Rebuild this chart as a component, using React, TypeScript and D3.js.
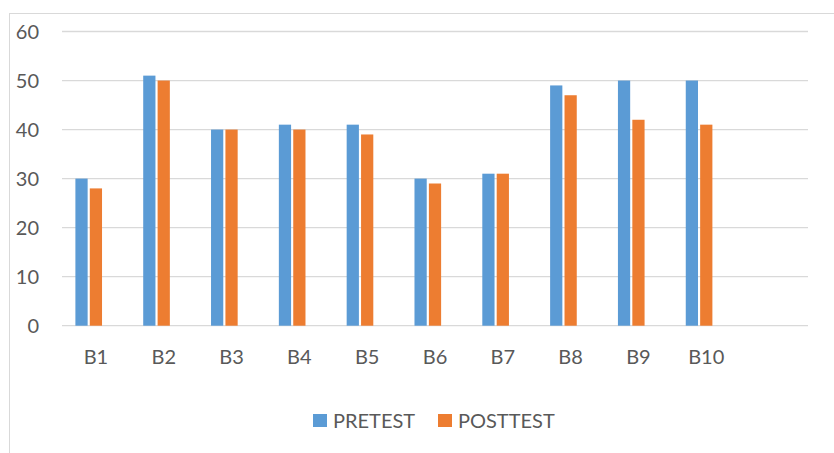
import React from "react";
import * as d3 from "d3";

const categories = ["B1", "B2", "B3", "B4", "B5", "B6", "B7", "B8", "B9", "B10", ""];
const seriesNames = ["PRETEST", "POSTTEST"];
const pretest = [30, 51, 40, 41, 41, 30, 31, 49, 50, 50];
const posttest = [28, 50, 40, 40, 39, 29, 31, 47, 42, 41];
const yTicks = [0, 10, 20, 30, 40, 50, 60];
const colors = ["#5B9BD5", "#ED7D31"];

const W = 834;
const H = 453;
const FONT = "Lato, 'Open Sans', sans-serif";

export default function App() {
  const x = d3.scaleBand<string>().domain(categories.map((c, i) => c + "_" + i)).range([62, 808]).paddingInner(0.395).paddingOuter(0.1975);
  const inner = d3.scaleBand<string>().domain(["a", "b", "c"]).range([0, x.bandwidth()]).paddingInner(0.15);
  const y = d3.scaleLinear().domain([0, 60]).range([325.7, 31.5]);
  const series = [pretest, posttest];
  const keys = ["a", "b"];
  return (
    <div style={{ position: "fixed", left: 0, top: 0 }}>
      <svg width={W} height={H} style={{ display: "block", background: "#fff" }}>
        <rect x={9.5} y={13.5} width={W + 10} height={H + 10} fill="#fff" stroke="#d9d9d9" strokeWidth={1} />
        {yTicks.map((t) => (
          <g key={t}>
            <line x1={62} x2={808} y1={y(t)} y2={y(t)} stroke="#d9d9d9" strokeWidth={1.3} />
            <text x={39} y={y(t)} dy="0.35em" textAnchor="end" fontFamily={FONT} fontSize={20} fill="#595959">{t}</text>
          </g>
        ))}
        {series.map((vals, si) =>
          vals.map((v, i) => {
            const x0 = (x(categories[i] + "_" + i) ?? 0) + (inner(keys[si]) ?? 0);
            return (
              <rect key={si + "-" + i} x={x0} y={y(v)} width={inner.bandwidth()} height={y(0) - y(v)} fill={colors[si]} />
            );
          })
        )}
        {categories.map((c, i) => (
          <text key={i} x={(x(c + "_" + i) ?? 0) + x.bandwidth() / 2} y={364} textAnchor="middle" fontFamily={FONT} fontSize={20} fill="#595959">{c}</text>
        ))}
        {seriesNames.map((n, i) => {
          const lx = [313, 438][i];
          return (
            <g key={n}>
              <rect x={lx} y={414} width={14} height={13} fill={colors[i]} />
              <text x={lx + 20} y={427.5} fontFamily={FONT} fontSize={20} fill="#595959">{n}</text>
            </g>
          );
        })}
      </svg>
    </div>
  );
}
